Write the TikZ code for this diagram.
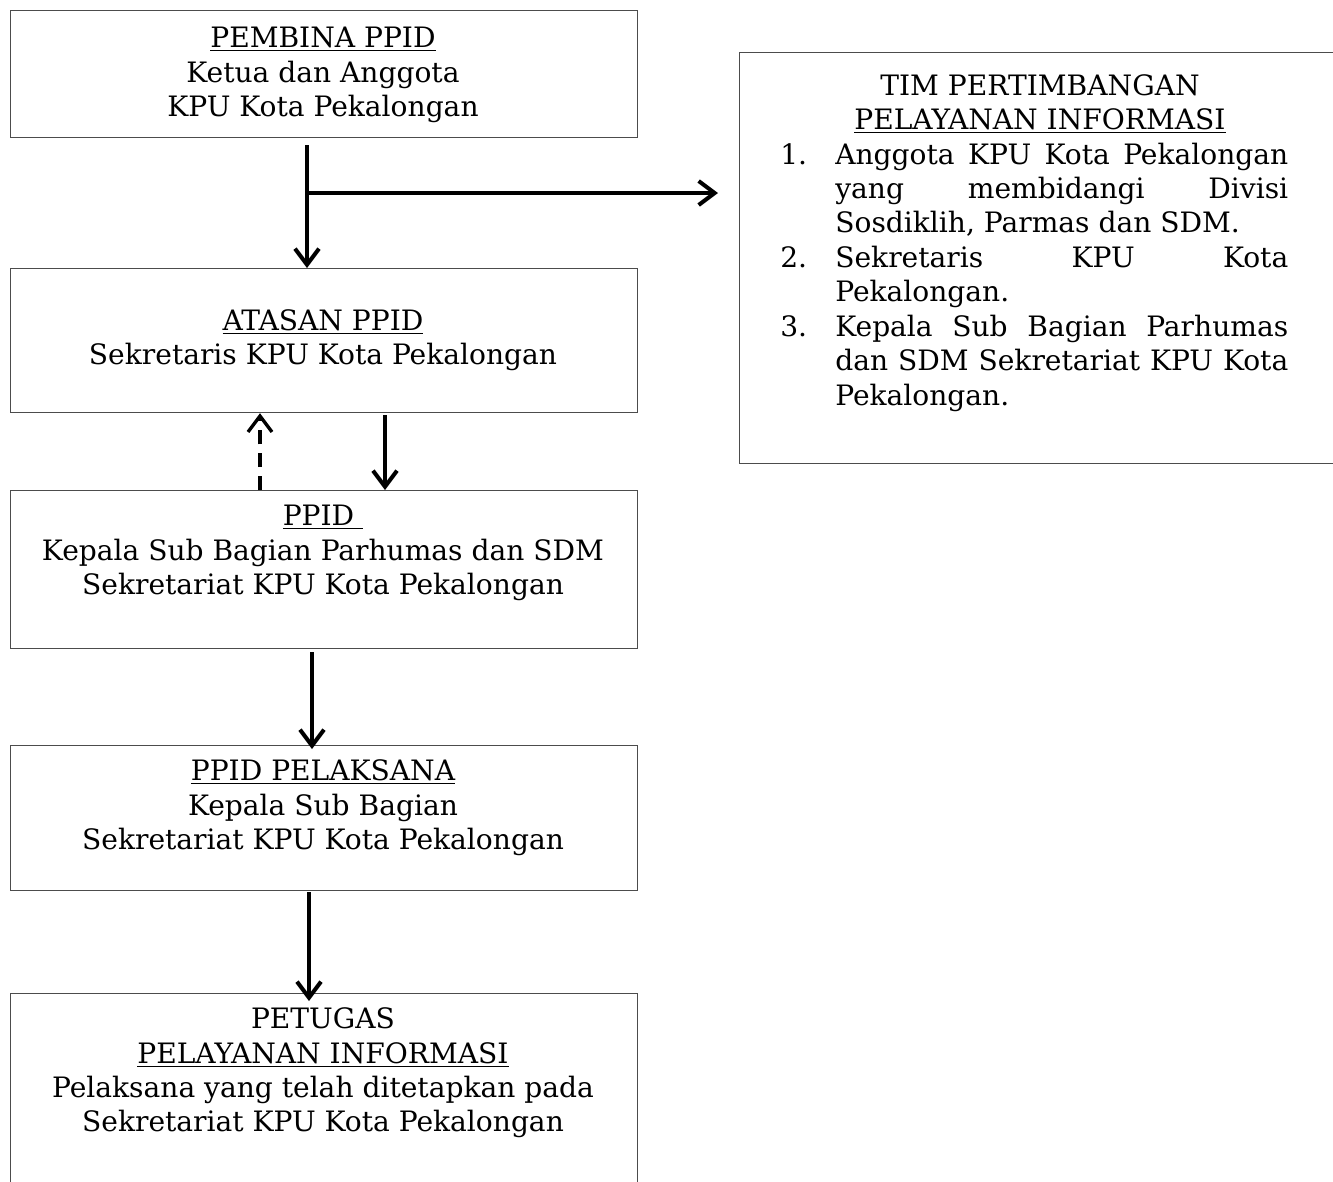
\documentclass[tikz,border=0pt]{standalone}
\usepackage{fontspec}
\setmainfont{DejaVu Serif}
\usetikzlibrary{arrows.meta,positioning}
\newcommand{\boxfont}{\fontsize{16}{19.6}\selectfont}
\newcommand{\timnum}[1]{\makebox[1.1cm][l]{#1}}
\newcommand{\timline}[1]{\makebox[9.06cm][s]{#1}}
\tikzset{
  box/.style={draw=black!70, line width=0.7pt, anchor=north west, minimum width=12.54cm, inner sep=0pt},
  boxtext/.style={align=center, font=\boxfont, inner sep=0pt},
  arr/.style={line width=2.3pt, -{Straight Barb[length=0.32cm,width=0.48cm]}},
  dasharr/.style={arr, line width=1.9pt, dash pattern=on 8pt off 5pt},
}
\begin{document}
\begin{tikzpicture}[x=0.02cm,y=-0.02cm]
\useasboundingbox (0,0) rectangle (1333,1181);
\clip (0,0) rectangle (1333,1181);

%%% BOXES %%%
\node[box, minimum height=2.54cm] (pembina) at (10,10) {};
\node[box, minimum height=2.88cm] (atasan) at (10,268) {};
\node[box, minimum height=3.16cm] (ppid) at (10,490) {};
\node[box, minimum height=2.90cm] (pelaksana) at (10,745) {};
\node[box, minimum height=4.20cm] (petugas) at (10,993) {};
\node[box, minimum width=12.4cm, minimum height=8.22cm] (tim) at (739,52) {};

%%% TEXTS %%%
\node[boxtext] (pembinatxt) at (323,75) {\underline{PEMBINA PPID}\\Ketua dan Anggota\\KPU Kota Pekalongan};
\node[boxtext] (atasantxt) at (323,340) {\underline{ATASAN PPID}\\Sekretaris KPU Kota Pekalongan};
\node[boxtext] (ppidtxt) at (323,553) {\underline{PPID\ }\\Kepala Sub Bagian Parhumas dan SDM\\Sekretariat KPU Kota Pekalongan};
\node[boxtext] (pelaksanatxt) at (323,808) {\underline{PPID PELAKSANA}\\Kepala Sub Bagian\\Sekretariat KPU Kota Pekalongan};
\node[boxtext] (petugastxt) at (323,1073) {PETUGAS\\\underline{PELAYANAN INFORMASI}\\Pelaksana yang telah ditetapkan pada\\Sekretariat KPU Kota Pekalongan};
\node[boxtext] (timtitle) at (1040,104) {TIM PERTIMBANGAN\\\underline{PELAYANAN INFORMASI}};
\node[boxtext, align=left, anchor=west] (timlist) at (780,277) {%
\timnum{1.}\timline{Anggota KPU Kota Pekalongan}\\
\timnum{}\timline{yang membidangi Divisi}\\
\timnum{}Sosdiklih, Parmas dan SDM.\\
\timnum{2.}\timline{Sekretaris KPU Kota}\\
\timnum{}Pekalongan.\\
\timnum{3.}\timline{Kepala Sub Bagian Parhumas}\\
\timnum{}\timline{dan SDM Sekretariat KPU Kota}\\
\timnum{}Pekalongan.};

%%% ARROWS %%%
\coordinate (top) at (307,145);
\coordinate (split) at (307,193);
\draw[line width=2.3pt] (top) -- (split);
\draw[arr] (split) -- (split |- atasan.north);
\draw[arr, shorten >=21*0.02cm] (split) -- (split -| tim.west);
\draw[dasharr] (260,490) coordinate (up) -- (up |- atasan.south);
\draw[arr] (385,415) coordinate (down) -- (down |- ppid.north);
\draw[arr] (312,652) coordinate (p2) -- ([yshift=-4*0.02cm]p2 |- pelaksana.north);
\draw[arr] (309,892) coordinate (p3) -- ([yshift=-8*0.02cm]p3 |- petugas.north);
\end{tikzpicture}
\end{document}
